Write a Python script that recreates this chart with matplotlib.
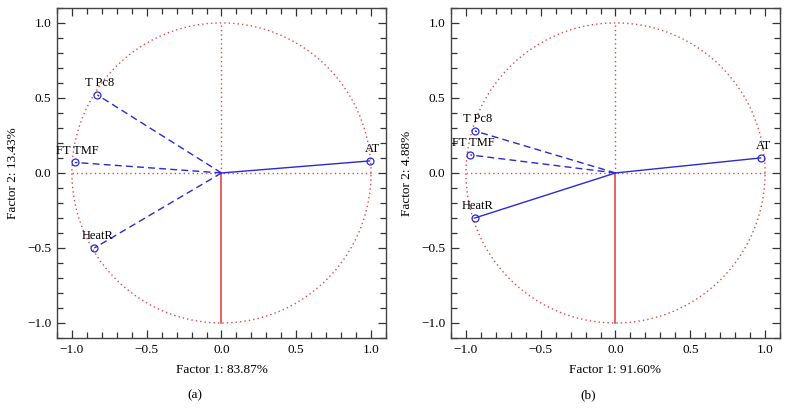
import numpy as np
import matplotlib
matplotlib.use("Agg")
import matplotlib.pyplot as plt
from matplotlib.ticker import MultipleLocator, FuncFormatter

variables = ["T Pc8", "FT TMF", "HeatR", "AT"]

# Panel (a)
x_a = [-0.83, -0.98, -0.85, 0.99]
y_a = [0.52, 0.07, -0.50, 0.08]
style_a = ["--", "--", "--", "-"]
xlabel_a = "Factor 1: 83.87%"
ylabel_a = "Factor 2: 13.43%"

# Panel (b)
x_b = [-0.94, -0.97, -0.94, 0.97]
y_b = [0.28, 0.12, -0.30, 0.10]
style_b = ["--", "--", "-", "-"]
xlabel_b = "Factor 1: 91.60%"
ylabel_b = "Factor 2: 4.88%"

panel_tags = ["(a)", "(b)"]

plt.rcParams["font.family"] = ["Liberation Serif", "DejaVu Serif"]
plt.rcParams["font.size"] = 8.5

fig = plt.figure(figsize=(7.89, 4.08), dpi=100)
blue = "#2a2ad6"
red = "#e04848"


def fmt(v, pos):
    s = "%.1f" % abs(v)
    return ("\u2212" + s) if v < -1e-9 else s


positions = [[0.0722, 0.1716, 0.417, 0.809], [0.5716, 0.1716, 0.417, 0.809]]
panels = [(x_a, y_a, style_a, xlabel_a, ylabel_a), (x_b, y_b, style_b, xlabel_b, ylabel_b)]

for i, (pos, (xs, ys, sts, xl, yl)) in enumerate(zip(positions, panels)):
    ax = fig.add_axes(pos)
    t = np.linspace(0, 2 * np.pi, 400)
    ax.plot(np.cos(t), np.sin(t), color=red, lw=1.0, ls=(0, (1, 2.2)))
    ax.plot([-1, 1], [0, 0], color=red, lw=1.0, ls=(0, (1, 2.2)))
    ax.plot([0, 0], [0, 1], color=red, lw=1.0, ls=(0, (1, 2.2)))
    ax.plot([0, 0], [0, -1], color=red, lw=1.2, ls="-")
    for name, x, y, st in zip(variables, xs, ys, sts):
        if st == "--":
            ax.plot([0, x], [0, y], color=blue, lw=1.0, ls="--", dashes=(5, 3))
        else:
            ax.plot([0, x], [0, y], color=blue, lw=1.0, ls="-")
        ax.plot([x], [y], marker="o", ms=5, mfc="none", mec=blue, mew=0.9, ls="none")
        ax.annotate(name, (x, y), xytext=(2, 4), textcoords="offset points",
                    ha="center", va="bottom", fontsize=9)
    ax.set_xlim(-1.1, 1.1)
    ax.set_ylim(-1.1, 1.1)
    ax.xaxis.set_major_locator(MultipleLocator(0.5))
    ax.yaxis.set_major_locator(MultipleLocator(0.5))
    ax.xaxis.set_minor_locator(MultipleLocator(0.1))
    ax.yaxis.set_minor_locator(MultipleLocator(0.1))
    ax.xaxis.set_major_formatter(FuncFormatter(fmt))
    ax.yaxis.set_major_formatter(FuncFormatter(fmt))
    ax.tick_params(which="both", direction="in", top=True, right=True, color="#333333", width=0.9)
    ax.tick_params(which="major", length=6, labelsize=9.5, pad=4)
    ax.tick_params(which="minor", length=4)
    for s in ax.spines.values():
        s.set_color("#444444")
        s.set_linewidth(1.0)
    ax.set_xlabel(xl, fontsize=9.5, labelpad=6)
    ax.set_ylabel(yl, fontsize=9.5, labelpad=6)

fig.text(195 / 789, 1 - 395 / 408, panel_tags[0], ha="center", va="center", fontsize=9.5)
fig.text(588 / 789, 1 - 395 / 408, panel_tags[1], ha="center", va="center", fontsize=9.5)

fig.savefig("out.png", dpi=100)
